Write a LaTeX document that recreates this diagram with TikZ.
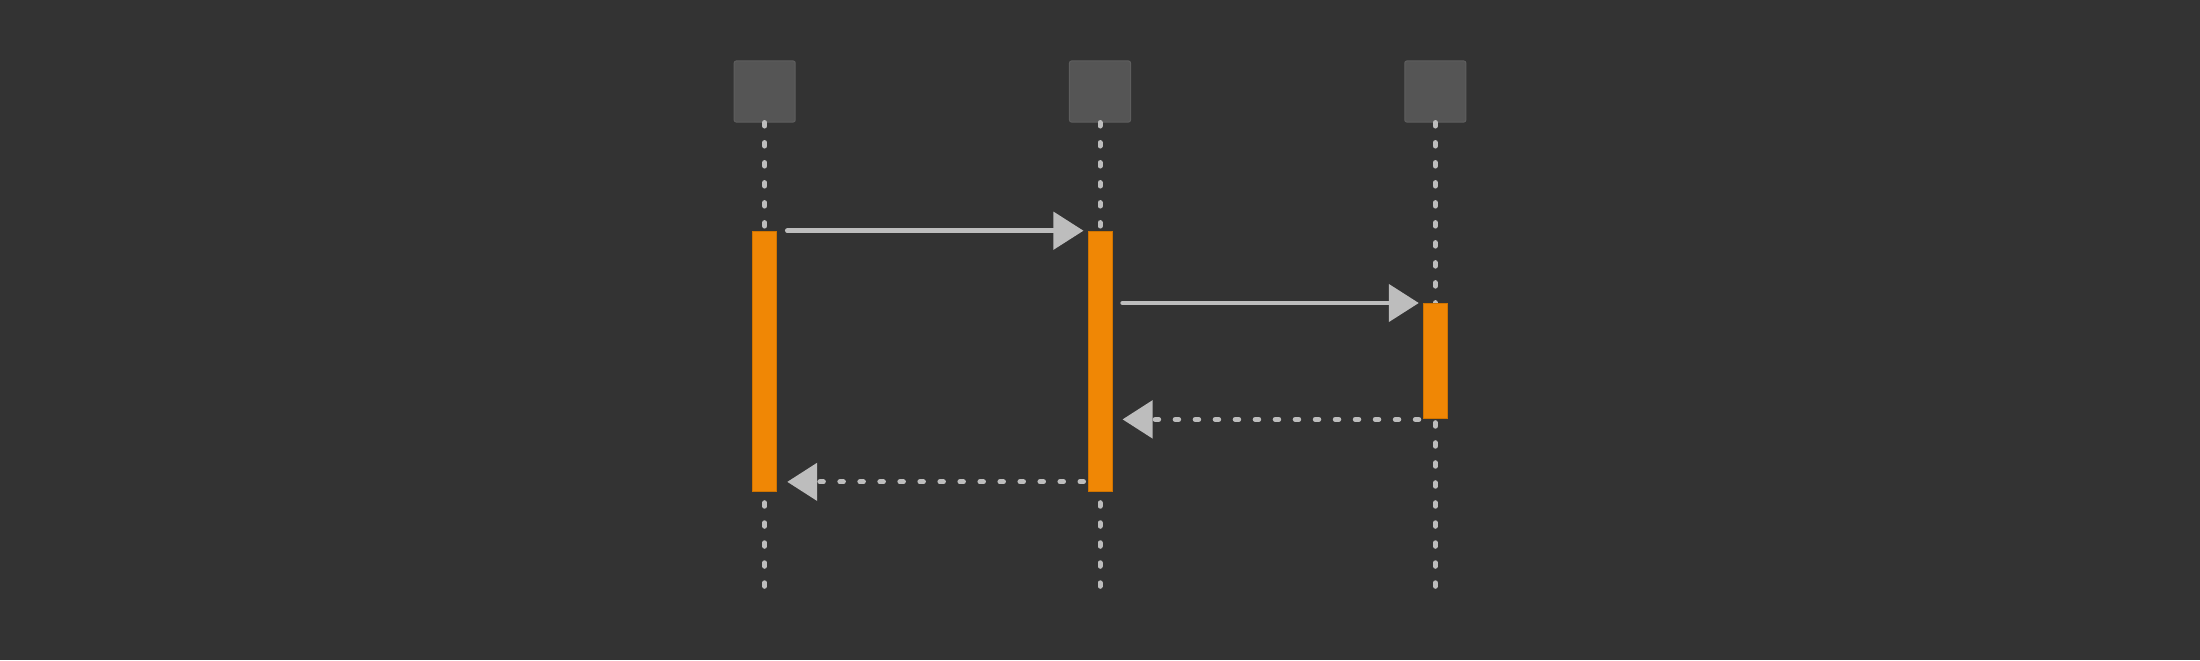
\documentclass[tikz,border=0pt]{standalone}
\usetikzlibrary{arrows.meta}
\definecolor{bgcol}{HTML}{333333}
\definecolor{boxfill}{HTML}{555555}
\definecolor{boxline}{HTML}{5E5E5E}
\definecolor{barfill}{HTML}{F08705}
\definecolor{barline}{HTML}{D07400}
\definecolor{linecol}{HTML}{BDBDBD}
\begin{document}
\begin{tikzpicture}[x=0.01cm,y=-0.01cm,
    actor/.style={draw=boxline,fill=boxfill,rounded corners=0.02cm,minimum size=0.61cm,inner sep=0pt,line width=0.01cm},
    activation/.style={draw=barline,fill=barfill,minimum width=0.24cm,inner sep=0pt,anchor=north,line width=0.01cm},
    lifeline/.style={draw=linecol,line width=0.05cm,line cap=round,dash pattern=on 0.035cm off 0.165cm},
    call/.style={draw=linecol,line width=0.045cm,line cap=round,-{Triangle[length=0.3cm,width=0.37cm]},shorten <=0.1cm,shorten >=0.04cm},
    reply/.style={draw=linecol,line width=0.05cm,line cap=round,dash pattern=on 0.035cm off 0.165cm,-{Triangle[length=0.3cm,width=0.37cm]},shorten <=0.04cm,shorten >=0.1cm}]
    % background
    \fill [bgcol] (0,0) rectangle (2200,660);
    \useasboundingbox (0,0) rectangle (2200,660);

    % Actors at the top
    \node [actor] (actA) at (764.7,91.5) {};
    \node [actor] (actB) at (1100,91.5) {};
    \node [actor] (actC) at (1435.3,91.5) {};

    % Lifelines
    \coordinate (endA) at (764.7,588);
    \coordinate (endB) at (1100,588);
    \coordinate (endC) at (1435.3,588);
    \draw [lifeline] (actA.south) -- (endA);
    \draw [lifeline] (actB.south) -- (endB);
    \draw [lifeline] (actC.south) -- (endC);

    % Activation bars
    \node [activation,minimum height=2.6cm] (barA) at (764.7,230.7) {};
    \node [activation,minimum height=2.6cm] (barB) at (1100,230.7) {};
    \node [activation,minimum height=1.153cm] (barC) at (1435.3,303) {};

    % Calls
    \draw [call] (barA.north east) -- (barB.north west);
    \draw [call] (barB.east |- barC.north) -- (barC.north west);

    % Replies
    \draw [reply] (barC.south west) -- (barB.east |- barC.south);
    \draw [reply] ([yshift=0.1cm]barB.south west) -- ([yshift=0.1cm]barA.south east);
\end{tikzpicture}
\end{document}
